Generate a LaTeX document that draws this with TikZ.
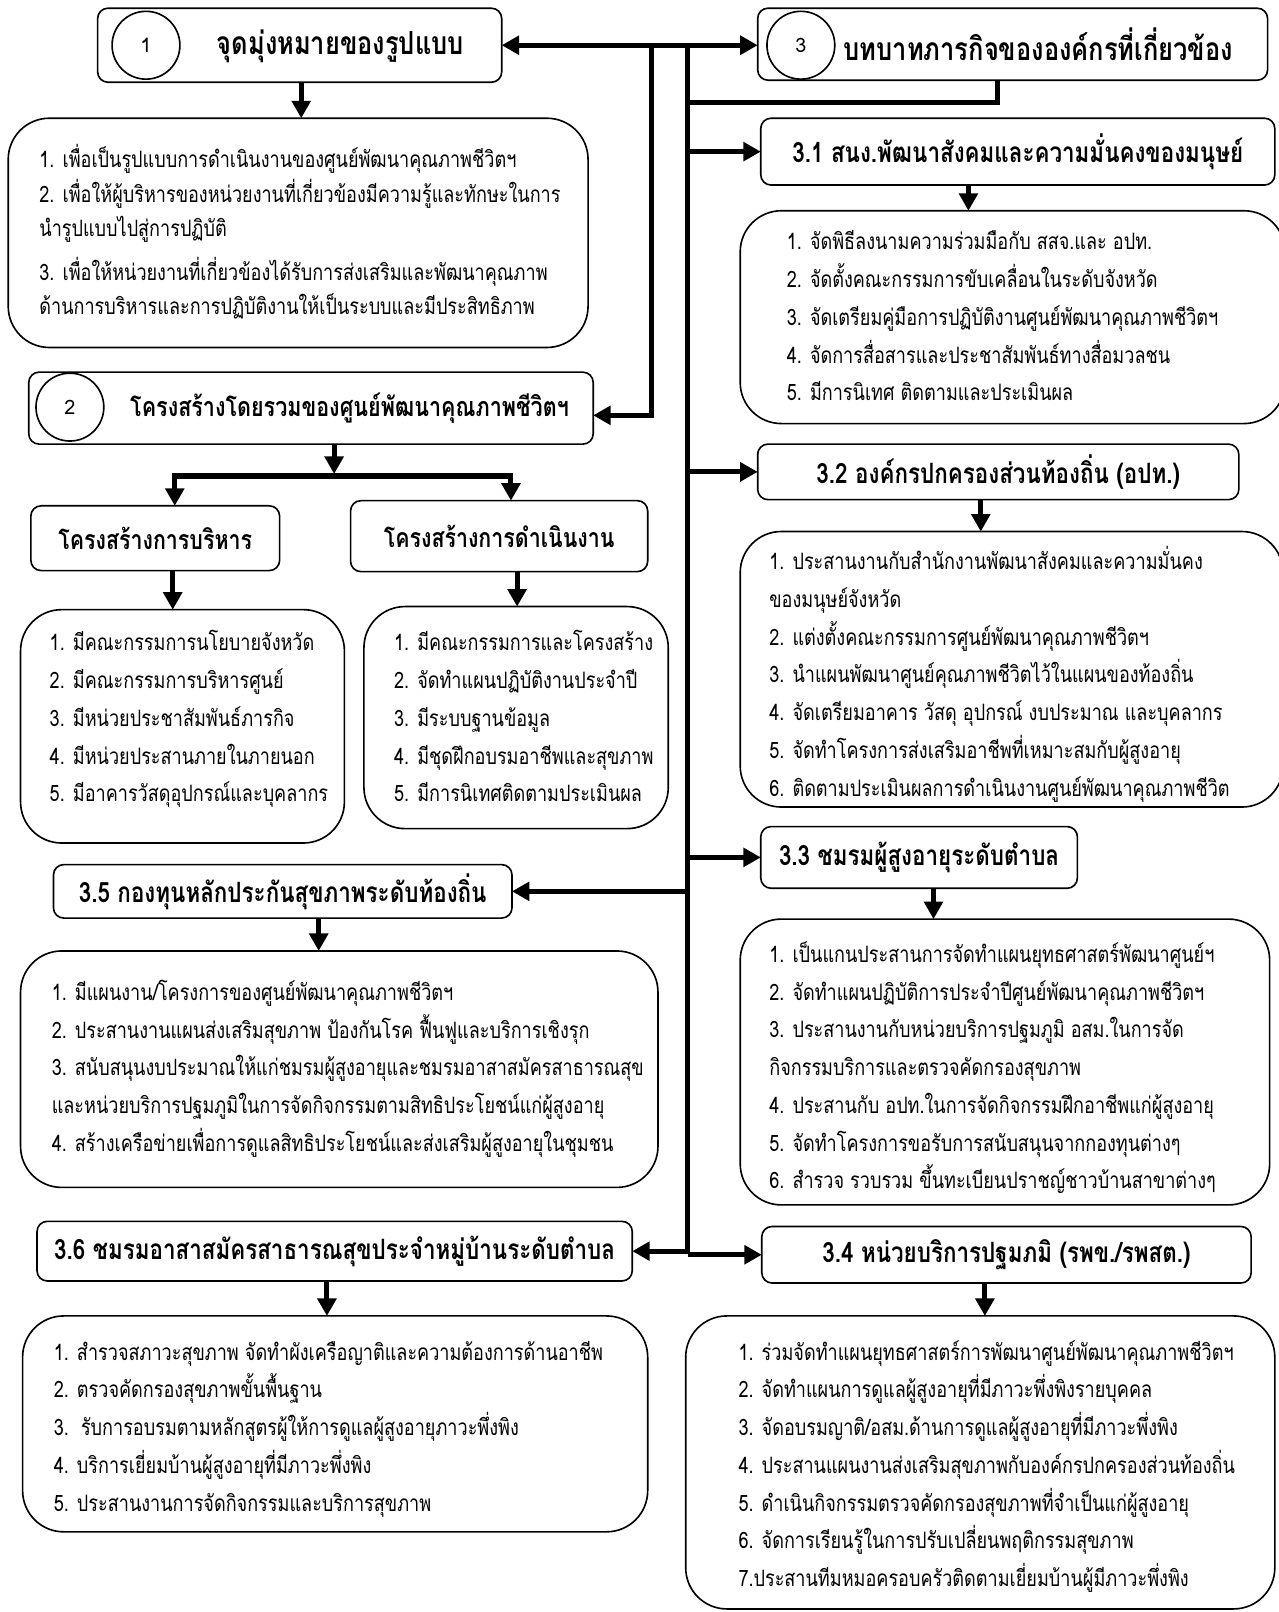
\documentclass[tikz,border=0pt]{standalone}
\usepackage{fontspec}
\usetikzlibrary{arrows.meta}
\newfontfamily\thai[Script=Thai]{Loma}
\newfontfamily\thain[Script=Thai,FakeStretch=0.80]{Loma}
\newcommand\nl{\\\strut}
\newcommand\bx[7]{%
  \pgfmathsetmacro\bxw{(#5-#3)*0.02}%
  \pgfmathsetmacro\bxh{(#6-#4)*0.02}%
  \node[#1, minimum width=\bxw cm, minimum height=\bxh cm] (#2) at ({(#3+#5)/2},{(#4+#6)/2}) {#7};%
}
\newcommand\down[3]{%
  \coordinate (#1x) at (#3,0);
  \draw[arr] (#1.south -| #1x) -- (#2.north -| #1x);%
}
\tikzset{
  hdr/.style={draw, rounded corners=0.2cm, line width=0.9pt, inner sep=0pt, outer sep=0pt, align=center, font=\thain\bfseries\fontsize{15.5}{18}\selectfont},
  cbox/.style={draw, rounded corners=0.8cm, line width=0.9pt, inner sep=0pt, outer sep=0pt},
  circ/.style={draw, circle, line width=0.9pt, minimum size=1.32cm, inner sep=0pt, font=\thai\fontsize{11}{13}\selectfont},
  items/.style={anchor=north west, inner sep=0pt, align=left, font=\thain\fontsize{12.5}{20.9}\selectfont},
  bigt/.style={inner sep=0pt, font=\thain\bfseries\fontsize{17.6}{20}\selectfont},
  midt/.style={font=\thain\bfseries\fontsize{14.8}{17}\selectfont},
  con/.style={line width=2.8pt},
  arr/.style={line width=2.8pt, -{Triangle[length=0.34cm,width=0.36cm]}},
  darr/.style={line width=2.8pt, {Triangle[length=0.34cm,width=0.36cm]}-{Triangle[length=0.34cm,width=0.36cm]}},
}
\begin{document}
\begin{tikzpicture}[x=0.02cm, y=-0.02cm]
\useasboundingbox (0,0) rectangle (1244,1568);
% ---- part 1
\bx{hdr}{b1}{95}{8}{488}{80}{}
\node[circ] (c1) at (142,44) {1};
\node[bigt] (t1) at (331,45) {จุดมุ่งหมายของรูปแบบ};
\bx{cbox}{k1}{8}{115}{572}{338}{}
\node[items, font=\thain\fontsize{12.5}{19.1}\selectfont] (k1t) at (38,139.5) {\strut 1. เพื่อเป็นรูปแบบการดำเนินงานของศูนย์พัฒนาคุณภาพชีวิตฯ\nl 2. เพื่อให้ผู้บริหารของหน่วยงานที่เกี่ยวข้องมีความรู้และทักษะในการ\nl นำรูปแบบไปสู่การปฏิบัติ\\[0.17cm]\strut 3. เพื่อให้หน่วยงานที่เกี่ยวข้องได้รับการส่งเสริมและพัฒนาคุณภาพ\nl ด้านการบริหารและการปฏิบัติงานให้เป็นระบบและมีประสิทธิภาพ};
\down{b1}{k1}{293}
% ---- part 2
\bx{hdr}{b2}{28}{362}{577}{432}{}
\node[circ] (c2) at (68,396) {2};
\node[inner sep=0pt, font=\thain\bfseries\fontsize{14.9}{17}\selectfont] (t2) at (340,397) {โครงสร้างโดยรวมของศูนย์พัฒนาคุณภาพชีวิตฯ};
\bx{hdr, midt}{s1}{30}{492}{272}{555}{โครงสร้างการบริหาร}
\bx{hdr, midt}{s2}{341}{487}{630}{556}{โครงสร้างการดำเนินงาน}
\coordinate (b2d) at (325,432);
\coordinate (br) at (325,461);
\coordinate (brm) at (325,463);
\coordinate (brL) at (170,463);
\coordinate (brR) at (497,463);
\draw[arr] (b2d) -- (br);
\draw[arr] (brm) -| (s1.north -| brL);
\draw[arr] (brm) -| (s2.north -| brR);
\bx{cbox}{k2a}{20}{593}{335}{820}{}
\bx{cbox}{k2b}{354}{590}{650}{806}{}
\down{s1}{k2a}{168}
\down{s2}{k2b}{503}
\node[items] (k2at) at (48,607) {\strut 1. มีคณะกรรมการนโยบายจังหวัด\nl 2. มีคณะกรรมการบริหารศูนย์\nl 3. มีหน่วยประชาสัมพันธ์ภารกิจ\nl 4. มีหน่วยประสานภายในภายนอก\nl 5. มีอาคารวัสดุอุปกรณ์และบุคลากร};
\node[items] (k2bt) at (383,607) {\strut 1. มีคณะกรรมการและโครงสร้าง\nl 2. จัดทำแผนปฏิบัติงานประจำปี\nl 3. มีระบบฐานข้อมูล\nl 4. มีชุดฝึกอบรมอาชีพและสุขภาพ\nl 5. มีการนิเทศติดตามประเมินผล};
% ---- part 3
\bx{hdr}{b3}{737}{8}{1233}{78}{}
\node[circ] (c3) at (779,44) {3};
\node[bigt] (t3) at (1010,43) {บทบาทภารกิจขององค์กรที่เกี่ยวข้อง};
\draw[darr] (b1.east) -- (b1.east -| b3.west);
\coordinate (tA) at (669,44);
\coordinate (tE) at (669,1220);
\coordinate (tB) at (634,44);
\coordinate (b2a) at (577,404);
\coordinate (b3d) at (970,78);
\coordinate (tC) at (669,100);
\draw[con] (tA) -- (tE);
\draw[arr] (tB) |- (b2a);
\draw[con] (b3d) |- (tC);
% 3.1
\bx{hdr}{h31}{740}{115}{1240}{180}{3.1 สนง.พัฒนาสังคมและความมั่นคงของมนุษย์}
\bx{cbox}{k31}{720}{205}{1250}{412}{}
\draw[arr] (h31.west -| tA) -- (h31.west);
\down{h31}{k31}{942}
\node[items] (k31t) at (765,217) {\strut 1. จัดพิธีลงนามความร่วมมือกับ สสจ.และ อปท.\nl 2. จัดตั้งคณะกรรมการขับเคลื่อนในระดับจังหวัด\nl 3. จัดเตรียมคู่มือการปฏิบัติงานศูนย์พัฒนาคุณภาพชีวิตฯ\nl 4. จัดการสื่อสารและประชาสัมพันธ์ทางสื่อมวลชน\nl 5. มีการนิเทศ ติดตามและประเมินผล};
% 3.2
\bx{hdr}{h32}{737}{432}{1205}{486}{3.2 องค์กรปกครองส่วนท้องถิ่น (อปท.)}
\bx{cbox}{k32}{720}{517}{1248}{785}{}
\draw[arr] (h32.west -| tA) -- (h32.west);
\down{h32}{k32}{954}
\node[items] (k32t) at (748,528) {\strut 1. ประสานงานกับสำนักงานพัฒนาสังคมและความมั่นคง\nl ของมนุษย์จังหวัด\nl 2. แต่งตั้งคณะกรรมการศูนย์พัฒนาคุณภาพชีวิตฯ\nl 3. นำแผนพัฒนาศูนย์คุณภาพชีวิตไว้ในแผนของท้องถิ่น\nl 4. จัดเตรียมอาคาร วัสดุ อุปกรณ์ งบประมาณ และบุคลากร\nl 5. จัดทำโครงการส่งเสริมอาชีพที่เหมาะสมกับผู้สูงอายุ\nl 6. ติดตามประเมินผลการดำเนินงานศูนย์พัฒนาคุณภาพชีวิต};
% 3.3
\bx{hdr}{h33}{740}{804}{1048}{864}{3.3 ชมรมผู้สูงอายุระดับตำบล}
\bx{cbox}{k33}{720}{894}{1235}{1172}{}
\draw[arr] (h33.west -| tA) -- (h33.west);
\down{h33}{k33}{908}
\node[items] (k33t) at (748,910) {\strut 1. เป็นแกนประสานการจัดทำแผนยุทธศาสตร์พัฒนาศูนย์ฯ\nl 2. จัดทำแผนปฏิบัติการประจำปีศูนย์พัฒนาคุณภาพชีวิตฯ\nl 3. ประสานงานกับหน่วยบริการปฐมภูมิ อสม.ในการจัด\nl กิจกรรมบริการและตรวจคัดกรองสุขภาพ\nl 4. ประสานกับ อปท.ในการจัดกิจกรรมฝึกอาชีพแก่ผู้สูงอายุ\nl 5. จัดทำโครงการขอรับการสนับสนุนจากกองทุนต่างๆ\nl 6. สำรวจ รวบรวม ขึ้นทะเบียนปราชญ์ชาวบ้านสาขาต่างๆ};
% 3.4
\bx{hdr}{h34}{741}{1193}{1217}{1248}{3.4 หน่วยบริการปฐมภมิ (รพข./รพสต.)}
\bx{cbox}{k34}{667}{1280}{1240}{1565}{}
\draw[arr] (h34.west -| tA) -- (h34.west);
\down{h34}{k34}{958}
\node[items] (k34t) at (718,1297) {\strut 1. ร่วมจัดทำแผนยุทธศาสตร์การพัฒนาศูนย์พัฒนาคุณภาพชีวิตฯ\nl 2. จัดทำแผนการดูแลผู้สูงอายุที่มีภาวะพึ่งพิงรายบุคคล\nl 3. จัดอบรมญาติ/อสม.ด้านการดูแลผู้สูงอายุที่มีภาวะพึ่งพิง\nl 4. ประสานแผนงานส่งเสริมสุขภาพกับองค์กรปกครองส่วนท้องถิ่น\nl 5. ดำเนินกิจกรรมตรวจคัดกรองสุขภาพที่จำเป็นแก่ผู้สูงอายุ\nl 6. จัดการเรียนรู้ในการปรับเปลี่ยนพฤติกรรมสุขภาพ\nl 7.ประสานทีมหมอครอบครัวติดตามเยี่ยมบ้านผู้มีภาวะพึ่งพิง};
% 3.5
\bx{hdr}{h35}{52}{841}{498}{893}{3.5 กองทุนหลักประกันสุขภาพระดับท้องถิ่น}
\bx{cbox}{k35}{20}{925}{640}{1155}{}
\draw[arr] (h35.east -| tA) -- (h35.east);
\down{h35}{k35}{310}
\node[items] (k35t) at (50,947) {\strut 1. มีแผนงาน/โครงการของศูนย์พัฒนาคุณภาพชีวิตฯ\nl 2. ประสานงานแผนส่งเสริมสุขภาพ ป้องกันโรค ฟื้นฟูและบริการเชิงรุก\nl 3. สนับสนุนงบประมาณให้แก่ชมรมผู้สูงอายุและชมรมอาสาสมัครสาธารณสุข\nl และหน่วยบริการปฐมภูมิในการจัดกิจกรรมตามสิทธิประโยชน์แก่ผู้สูงอายุ\nl 4. สร้างเครือข่ายเพื่อการดูแลสิทธิประโยชน์และส่งเสริมผู้สูงอายุในชุมชน};
% 3.6
\bx{hdr}{h36}{36}{1188}{615}{1246}{3.6 ชมรมอาสาสมัครสาธารณสุขประจำหมู่บ้านระดับตำบล}
\bx{cbox}{k36}{22}{1280}{630}{1490}{}
\draw[arr] (h36.east -| tA) -- (h36.east);
\down{h36}{k36}{318}
\node[items] (k36t) at (52,1297) {\strut 1. สำรวจสภาวะสุขภาพ จัดทำผังเครือญาติและความต้องการด้านอาชีพ\nl 2. ตรวจคัดกรองสุขภาพขั้นพื้นฐาน\nl 3.\ \ รับการอบรมตามหลักสูตรผู้ให้การดูแลผู้สูงอายุภาวะพึ่งพิง\nl 4. บริการเยี่ยมบ้านผู้สูงอายุที่มีภาวะพึ่งพิง\nl 5. ประสานงานการจัดกิจกรรมและบริการสุขภาพ};
\end{tikzpicture}
\end{document}
